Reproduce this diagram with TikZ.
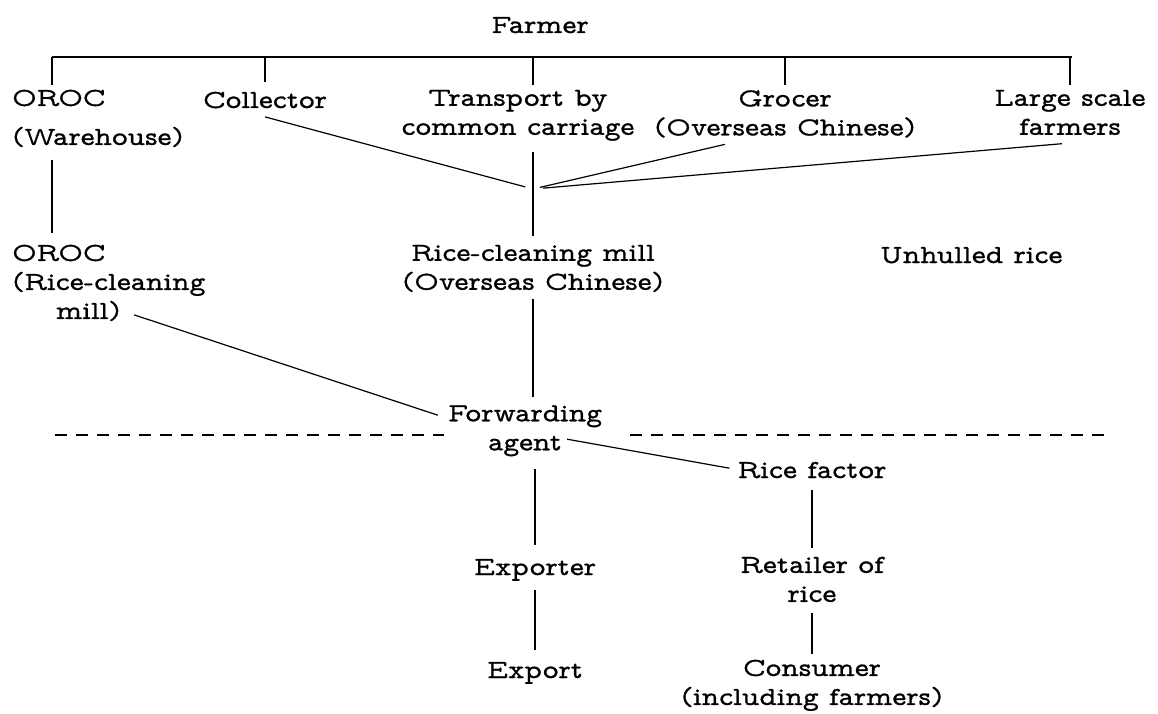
\documentclass[tikz,border=0pt]{standalone}
\usepackage{fontspec}
\newfontfamily\twfont[Extension=.otf, FakeStretch=1.15, FakeBold=1]{lmmonoprop10-regular}
\usetikzlibrary{calc}
\newcommand\twsize{\twfont\fontsize{26}{29}\selectfont}
\tikzset{
  lab/.style={font=\twsize, inner sep=0pt, align=center,
    execute at begin node=\strut, execute at end node=\strut},
  labl/.style={lab, align=left, anchor=west},
  link/.style={line width=1.2pt},
  tick/.style={link, shorten >=5pt},
  cut/.style={line width=1.1pt, dash pattern=on 12pt off 9pt},
}
\begin{document}
\begin{tikzpicture}[x=1pt,y=-1pt]
\useasboundingbox (0,0) rectangle (1158,714);

% labels
\node[lab] (farmer) at (540,27.2) {Farmer};
\node[labl] (orocw) at (12,121.7) {OROC\\[10pt](Warehouse)};
\node[lab] (coll) at (265,102.2) {Collector};
\node[lab] (trans) at (518,116.7) {Transport by\\common carriage};
\node[lab] (groc) at (785,117.2) {Grocer\\(Overseas Chinese)};
\node[lab] (large) at (1070,116.7) {Large scale\\farmers};
\node[lab] (mill) at (533,271.7) {Rice-cleaning mill\\(Overseas Chinese)};
\node[labl] (orocm) at (12,286.2) {OROC\\(Rice-cleaning\\\hspace*{44pt}mill)};
\node[labl] (unh) at (880,257.2) {Unhulled rice};
\node[lab] (forw) at (525,432.2) {Forwarding\\agent};
\node[lab] (rf) at (812,472.2) {Rice factor};
\node[lab] (exr) at (535,569.2) {Exporter};
\node[lab] (ext) at (535,672.2) {Export};
\node[lab] (ret) at (812,583.7) {Retailer of\\rice};
\node[lab] (cons) at (812,686.7) {Consumer\\(including farmers)};

% bar under Farmer with its drops
\coordinate (barL) at (52,57);
\coordinate (barR) at (1072,57);
\coordinate (j) at (533,189);
\draw[link] (barL) -- (barR);
\draw[tick] (barL) -- (barL |- orocw.north);
\draw[tick] (coll.north |- barL) -- (coll.north);
\draw[tick] (j |- barL) -- (j |- trans.north);
\draw[tick] (groc.north |- barL) -- (groc.north);
\draw[tick] (large.north |- barL) -- (large.north);

% collection point above the mill
\draw[link, shorten <=8pt, shorten >=9pt] (trans.south -| j) -- (mill.north -| j);
\draw[link, shorten >=8pt] (coll.south) -- (j);
\draw[link, shorten >=7pt] ($(groc.south)+(-60,0)$) -- (j);
\draw[link, shorten >=10pt] ($(large.south)+(-8,0)$) -- (j);

% left branch
\draw[link, shorten <=6pt, shorten >=12pt] (orocw.south -| barL) -- (orocm.north -| barL);
\draw[link] ($(orocm.south west)+(122,-13)$) -- ($(forw.west)+(-10,-17)$);

% mill to forwarding agent
\draw[link, shorten >=8pt] (mill.south -| j) -- (forw.north -| j);

% dividing line
\coordinate (dL) at (55,435);
\coordinate (dR) at (1110,435);
\draw[cut, shorten >=4pt] (dL) -- (dL -| forw.west);
\draw[cut, shorten <=28pt] (dR -| forw.east) -- (dR);

% below the line
\draw[link] ($(forw.east)+(-35,7)$) -- ($(rf.west)+(-8,-4)$);
\draw[link, shorten <=10pt, shorten >=10pt] (forw.south -| exr) -- (exr.north);
\draw[link, shorten <=6pt, shorten >=8pt] (exr.south) -- (ext.north);
\draw[link, shorten <=3pt, shorten >=9pt] (rf.south) -- (ret.north);
\draw[link, shorten <=2pt, shorten >=6pt] (ret.south) -- (cons.north);
\end{tikzpicture}
\end{document}
